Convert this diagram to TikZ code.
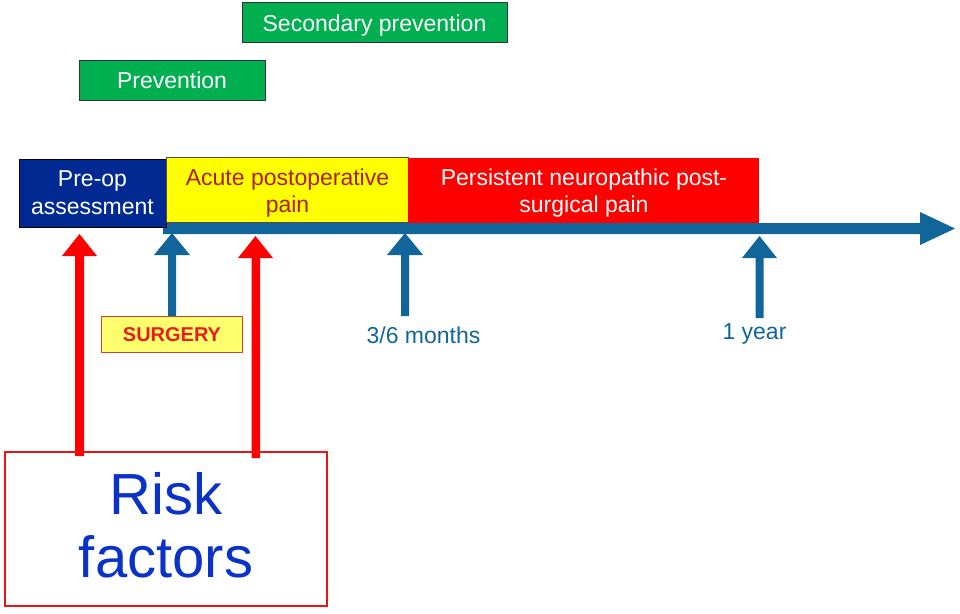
\documentclass[tikz,border=0pt]{standalone}
\usepackage{fontspec}
\setmainfont{Liberation Sans}
\definecolor{pgreen}{RGB}{0,176,80}
\definecolor{pblue}{RGB}{0,42,145}
\definecolor{tblue}{RGB}{16,102,155}
\definecolor{ayellow}{RGB}{255,255,0}
\definecolor{syellow}{RGB}{255,255,110}
\definecolor{atext}{RGB}{175,30,15}
\definecolor{pred}{RGB}{255,0,0}
\definecolor{rred}{RGB}{235,20,20}
\definecolor{rtext}{RGB}{10,50,200}
\definecolor{sborder}{RGB}{200,70,50}
\definecolor{stext}{RGB}{230,30,30}
\begin{document}
\begin{tikzpicture}[x=1pt,y=-1pt,
  box/.style={rectangle, inner sep=0pt, align=center, font=\fontsize{23}{28}\selectfont},
  txt/.style={inner sep=0pt, align=center, font=\fontsize{23}{27}\selectfont},
  greenbox/.style={box, fill=pgreen, draw=black!80, line width=1pt, text=white, text depth=0pt}
]
\useasboundingbox (0,0) rectangle (960,613);
% prevention boxes
\node[greenbox, text height=18pt, minimum width=265pt, minimum height=40pt] (sec) at (374.5,22.7) {Secondary prevention};
\node[greenbox, text height=16pt, minimum width=186pt, minimum height=40pt] (prev) at (172,80) {Prevention};
% timeline bar with arrowhead
\fill[tblue] (163,223) -- (920,223) -- (920,212) -- (955,228.5) -- (920,245) -- (920,234) -- (163,234) -- cycle;
\coordinate (tend) at (955,228.5);
% phase boxes
\node[box, fill=pblue, draw=black, line width=1pt, minimum width=147pt, minimum height=68pt] (preop) at (92.5,193) {};
\node[txt, text=white, font=\fontsize{23}{28}\selectfont] (preopt) at (92.5,193) {Pre-op\\assessment};
\node[box, fill=ayellow, draw=black!70, line width=0.8pt, minimum width=242pt, minimum height=65pt] (acute) at (287,190) {};
\node[txt, text=atext] (acutet) at (287.5,192.7) {Acute postoperative\\pain};
\node[box, fill=pred, minimum width=351pt, minimum height=65pt] (pers) at (583.5,190) {};
\node[txt, text=white] (perst) at (584,192.8) {Persistent neuropathic post-\\surgical pain};
% blue arrows (time marks)
\fill[tblue] (168,318) -- (168,255) -- (154,255) -- (172,233) -- (190,255) -- (176,255) -- (176,318) -- cycle;
\fill[tblue] (401,316) -- (401,255) -- (387,255) -- (405,233) -- (423,255) -- (409,255) -- (409,316) -- cycle;
\fill[tblue] (755.5,318) -- (755.5,258) -- (742,258) -- (759.5,236) -- (777,258) -- (763.5,258) -- (763.5,318) -- cycle;
% red arrows (risk factors)
\fill[pred] (75,456) -- (75,256) -- (62,256) -- (79.5,234) -- (97,256) -- (84,256) -- (84,456) -- cycle;
\fill[pred] (251.5,458) -- (251.5,258) -- (238,258) -- (255.5,236) -- (273,258) -- (260,258) -- (260,458) -- cycle;
% labels
\node[box, fill=syellow, draw=sborder, line width=1pt, text=stext, font=\fontsize{20}{24}\selectfont\bfseries, text height=14.3pt, text depth=0pt, minimum width=141pt, minimum height=36pt] (surg) at (172,334.7) {SURGERY};
\node[txt, text=tblue, anchor=base] (m36) at (423.5,343) {3/6 months};
\node[txt, text=tblue, anchor=base] (yr) at (754.5,339) {1 year};
% risk factors box
\node[box, draw=rred, line width=2.5pt, minimum width=322pt, minimum height=154pt] (risk) at (166,529) {};
\node[txt, text=rtext, font=\fontsize{58}{63}\selectfont] (riskt) at (166,525.5) {Risk\\factors};
\end{tikzpicture}
\end{document}
